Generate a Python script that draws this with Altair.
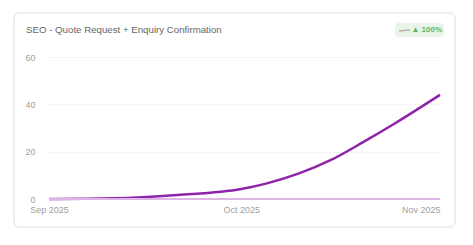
import altair as alt
import pandas as pd

dates_current = ["2025-09-01", "2025-09-11", "2025-09-21", "2025-10-01", "2025-10-05",
                 "2025-10-10", "2025-10-15", "2025-10-20", "2025-10-25", "2025-11-01"]
series_current = [0, 0.3, 1.7, 4.2, 6.6, 10.8, 16.5, 24, 32, 44]
dates_previous = ["2025-09-01", "2025-10-01", "2025-11-01"]
series_previous = [0, 0, 0]
title_text = "SEO - Quote Request + Enquiry Confirmation"
badge_text = "▲ 100%"
y_ticks = [0, 20, 40, 60]

rows = []
for d, v in zip(dates_current, series_current):
    rows.append({"date": d, "value": v, "series": "current"})
for d, v in zip(dates_previous, series_previous):
    rows.append({"date": d, "value": v, "series": "previous"})
df = pd.DataFrame(rows)

FONT = "Liberation Sans"
W, H = 391, 142

x_enc = alt.X(
    "date:T",
    scale=alt.Scale(nice=False),
    axis=alt.Axis(
        format="%b %Y",
        tickCount="month",
        grid=False,
        ticks=False,
        domain=False,
        labelFontSize=9,
        labelColor="#a0a0a0",
        labelFont=FONT,
        labelPadding=6,
        labelAlign={"condition": {"test": "datum.index == 1", "value": "right"}, "value": "center"},
        title=None,
    ),
)
y_enc = alt.Y(
    "value:Q",
    scale=alt.Scale(domain=[0, 60], nice=False),
    axis=alt.Axis(
        values=y_ticks,
        ticks=False,
        domain=False,
        labelFontSize=9,
        labelColor="#a0a0a0",
        labelFont=FONT,
        labelPadding=14,
        gridColor="#ededed",
        gridDash=[2, 2],
        title=None,
    ),
)

card = alt.Chart(pd.DataFrame({"a": [0]})).mark_rect(
    fill="transparent", stroke="#dedede", strokeWidth=1, cornerRadius=5, clip=False
).encode(
    x=alt.value(-35), x2=alt.value(406), y=alt.value(-44), y2=alt.value(170)
)

title = alt.Chart(pd.DataFrame({"t": [title_text]})).mark_text(
    align="left", baseline="middle", fontSize=9.7, color="#666666", font=FONT, clip=False
).encode(text="t:N", x=alt.value(-23), y=alt.value(-27))

badge = alt.Chart(pd.DataFrame({"a": [0]})).mark_rect(
    fill="#eaf5ea", cornerRadius=3, clip=False
).encode(x=alt.value(346), x2=alt.value(395), y=alt.value(-34), y2=alt.value(-20))

spark = alt.Chart(pd.DataFrame({"a": [0]})).mark_rule(
    color="#b5b5b5", strokeWidth=1.5, clip=False
).encode(x=alt.value(350), x2=alt.value(361), y=alt.value(-26), y2=alt.value(-27))

badge_txt = alt.Chart(pd.DataFrame({"t": [badge_text]})).mark_text(
    align="right", baseline="middle", fontSize=8, fontWeight="bold", color="#5cb85c", font=FONT, clip=False
).encode(text="t:N", x=alt.value(393), y=alt.value(-27))

lines = alt.Chart(df).mark_line(interpolate="monotone").encode(
    x=x_enc,
    y=y_enc,
    color=alt.Color(
        "series:N",
        scale=alt.Scale(domain=["current", "previous"], range=["#8e24aa", "#dcb4e6"]),
        legend=None,
    ),
    strokeWidth=alt.StrokeWidth(
        "series:N", scale=alt.Scale(domain=["current", "previous"], range=[2.5, 2]), legend=None
    ),
    order=alt.Order("series:N", sort="descending"),
)

chart = alt.layer(card, title, badge, spark, badge_txt, lines).properties(
    width=W,
    height=H,
    padding={"left": 49, "top": 57, "right": 33, "bottom": 46},
    autosize=alt.AutoSizeParams(type="none"),
    background="white",
).configure_view(stroke=None)

chart.save("out.html", embed_options={"renderer": "svg", "actions": False})
